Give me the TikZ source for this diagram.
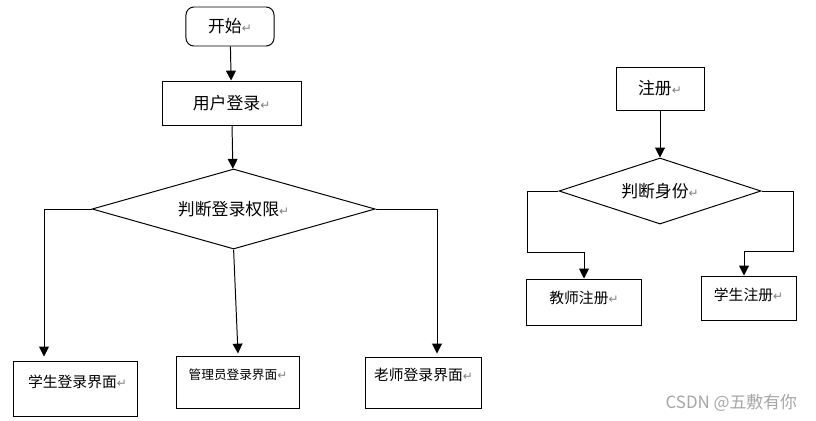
\documentclass[tikz,border=0pt]{standalone}
\usepackage{fontspec}
\setmainfont{Noto Sans CJK SC}
\newfontfamily\symfont{DejaVu Sans}
\usetikzlibrary{arrows.meta,shapes.geometric,positioning,calc}
\usepackage{xcolor}
\newcommand{\ret}{{\symfont\fontsize{8.5}{8.5}\selectfont\textcolor{gray}{↵}}}

\begin{document}
\begin{tikzpicture}[
				x=0.025cm,y=-0.025cm,
				box/.style={draw,rectangle,line width=0.7pt,inner sep=0pt,font=\fontsize{10.5}{12}\selectfont},
				bigbox/.style={box,font=\fontsize{12}{14}\selectfont},
				decision/.style={draw,diamond,aspect=3.5,inner sep=0pt,line width=0.7pt,font=\fontsize{12}{14}\selectfont},
				arr/.style={-{Triangle[length=7pt,width=7pt]},line width=0.7pt}
				]
				\useasboundingbox (0,0) rectangle (816,421);
				
				% Login flow
				\node[bigbox,rounded corners=0.2cm,minimum width=2.2cm,minimum height=0.975cm] (start) at (230,26.5) {开始\ret};
				\node[bigbox,below=0.85cm of start,xshift=0.04cm,minimum width=3.475cm,minimum height=1.1cm] (login) {用户登录\ret};
				\node[decision,below=1.075cm of login,xshift=0.05cm,minimum width=7.075cm,minimum height=2cm] (judge) {判断登录权限\ret};
				
				% Login pages
				\node[box,minimum width=3.075cm,minimum height=1.375cm,text depth=10.5pt] (stu) at (75.5,388.5) {\hspace{0.1cm}学生登录界面\ret};
				\node[box,font=\fontsize{9}{11}\selectfont,minimum width=3.05cm,minimum height=1.3cm,text depth=11pt] (admin) at (238,382) {管理员登录界面\ret};
				\node[box,minimum width=2.875cm,minimum height=1.275cm,text depth=11.5pt] (teach) at (423.5,382.5) {老师登录界面\ret};
				
				% Register flow
				\node[bigbox,minimum width=2.2cm,minimum height=1.075cm] (reg) at (660,88.5) {注册\ret};
				\node[decision,below=1.175cm of reg,minimum width=5.05cm,minimum height=1.65cm] (who) {判断身份\ret};
				\node[box,minimum width=2.85cm,minimum height=1.15cm,text depth=7pt] (treg) at (584,302) {教师注册\ret};
				\node[box,minimum width=2.375cm,minimum height=1.1cm,text depth=5.5pt] (sreg) at (748.5,298) {学生注册\ret};
				
				% Watermark
				\node[text=gray!70,font=\fontsize{12}{14}\selectfont,anchor=east] (mark) at (802,403) {CSDN @五敷有你};
				
				% Connections
				\draw[arr] (start) -- (login);
				\draw[arr] (login) -- (judge);
				\draw[arr] (judge.west) -| ($(stu.north)+(-31.5,-4)$);
				\draw[arr] (judge.south) -- ($(admin.north)+(0,-2)$);
				\draw[arr] (judge.east) -| ($(teach.north)+(13.5,-3)$);
				
				\draw[arr] (reg) -- (who);
				\draw[arr] (who.west) -- ++(-31,0) -- ++(0,61) -| (treg.north);
				\draw[arr] (who.east) -- ++(32,0) -- ++(0,60) -| ($(sreg.north)+(-4.5,0)$);
				
			\end{tikzpicture}
\end{document}
